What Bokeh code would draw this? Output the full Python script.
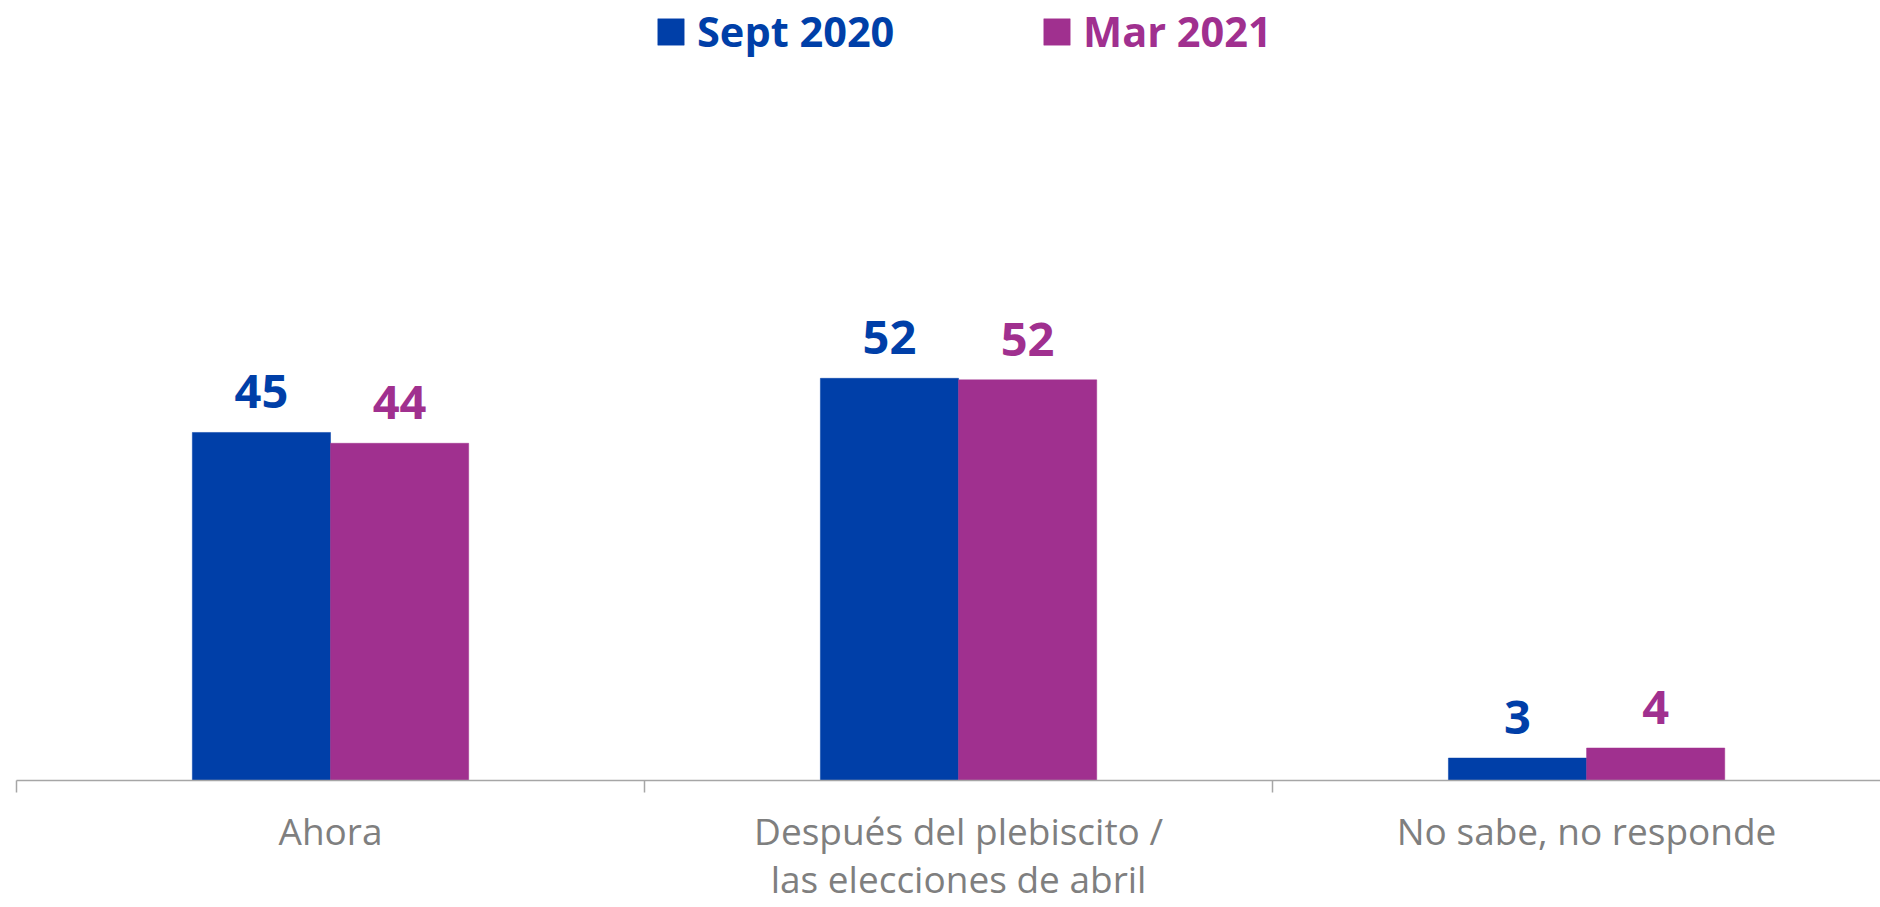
import numpy as np
from bokeh.plotting import figure
from bokeh.models import (ColumnDataSource, Range1d, LinearAxis, FixedTicker,
                          Legend, LegendItem, LabelSet)
from bokeh.transform import dodge
from bokeh.core.properties import value
from bokeh.embed import file_html
from bokeh.resources import INLINE

# ---- data ----
categories = ["Ahora", "Después del plebiscito /\nlas elecciones de abril", "No sabe, no responde"]
series_names = ["Sept 2020", "Mar 2021"]
sept_2020 = [45.0, 52.0, 2.9]
mar_2021 = [43.6, 51.8, 4.2]

BLUE = "#003FA8"
MAGENTA = "#A0308F"
GRAY_TXT = "#7F7F7F"
AXIS_GRAY = "#A6A6A6"
FONT = "Open Sans"

xpos = list(np.arange(len(categories)) + 0.5)
src = ColumnDataSource(dict(
    x=xpos,
    sept=sept_2020,
    mar=mar_2021,
    sept_lbl=[str(int(round(v))) for v in sept_2020],
    mar_lbl=[str(int(round(v))) for v in mar_2021],
))

p = figure(width=1880, height=907, output_backend="svg", toolbar_location=None,
           x_range=Range1d(0, 2.968), y_range=Range1d(0, 100.85),
           x_axis_type=None, y_axis_type=None,
           min_border_left=16, min_border_right=0, min_border_top=0,
           min_border_bottom=120)
p.outline_line_color = None
p.xgrid.visible = False
p.ygrid.visible = False
p.background_fill_color = "white"
p.border_fill_color = "white"

bw = 0.22
r1 = p.vbar(x=dodge("x", -bw / 2), top="sept", width=bw, bottom=0, source=src,
            fill_color=BLUE, line_color=BLUE, line_width=0.5)
r2 = p.vbar(x=dodge("x", bw / 2), top="mar", width=bw, bottom=0, source=src,
            fill_color=MAGENTA, line_color=MAGENTA, line_width=0.5)

# value labels
for col, lbl, color, off in (("sept", "sept_lbl", BLUE, -bw / 2), ("mar", "mar_lbl", MAGENTA, bw / 2)):
    ls = LabelSet(x=dodge("x", off), y=col, text=lbl, source=src,
                  text_align="center", text_baseline="alphabetic",
                  y_offset=24, text_color=color,
                  text_font=value(FONT), text_font_style="bold",
                  text_font_size="47px")
    p.add_layout(ls)

# x axis: ticks at category boundaries, labels at category centres
ax = LinearAxis(ticker=FixedTicker(ticks=xpos, minor_ticks=[0, 1, 2, 3]))
ax.major_label_overrides = {float(x): c for x, c in zip(xpos, categories)}
ax.axis_line_color = AXIS_GRAY
ax.axis_line_width = 1.5
ax.major_tick_out = 0
ax.major_tick_in = 0
ax.major_tick_line_color = None
ax.minor_tick_out = 12
ax.minor_tick_in = 0
ax.minor_tick_line_color = AXIS_GRAY
ax.minor_tick_line_width = 1.5
ax.major_label_text_font = FONT
ax.major_label_text_font_size = "37px"
ax.major_label_text_color = GRAY_TXT
ax.major_label_standoff = 12
ax.major_label_text_line_height = 0.955
p.add_layout(ax, "below")

# legends (two, each with its own text colour)
for rend, name, color, xloc in ((r1, series_names[0], BLUE, 638), (r2, series_names[1], MAGENTA, 1024)):
    lg = Legend(items=[LegendItem(label=name, renderers=[rend])],
                location=(xloc, 721), orientation="horizontal",
                glyph_width=33, glyph_height=33, label_height=33,
                label_standoff=10, padding=0, margin=0, spacing=0,
                border_line_alpha=0, background_fill_alpha=0,
                label_text_font=FONT, label_text_font_style="bold",
                label_text_font_size="41.5px", label_text_color=color)
    p.add_layout(lg, "center")

open("out.html", "w").write(file_html(p, INLINE))
